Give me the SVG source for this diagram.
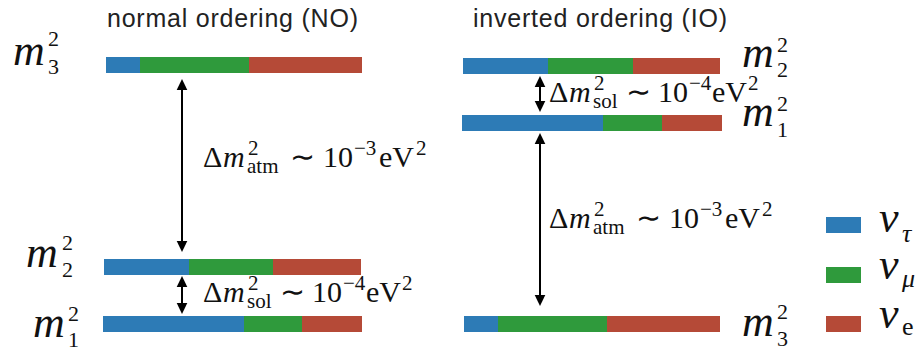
<svg xmlns="http://www.w3.org/2000/svg" width="923" height="354" viewBox="0 0 923 354">
<style>
.title{font-family:"Liberation Sans",Arial,sans-serif;font-size:25px;fill:#222}
.mt{font-family:"Liberation Serif","Times New Roman",serif;fill:#111}
.big{font-size:44px;font-style:italic}
.scr{font-size:22px;font-style:normal}
.lab{font-size:30px}
.s{font-size:21px;font-style:normal}
.ls{font-size:26px}
.it{font-style:italic}
.blue{fill:#2d7bb6}
.green{fill:#2f9a3c}
.red{fill:#b54a37}
.arr{stroke:#000;stroke-width:2;fill:none;marker-start:url(#ah);marker-end:url(#ah)}
</style>
<defs>
<marker id="ah" viewBox="0 -6 12 12" markerUnits="userSpaceOnUse" markerWidth="12" markerHeight="12" refX="0" refY="0" orient="auto-start-reverse" overflow="visible">
<path d="M0,-5.3 L11,0 L0,5.3 Z" fill="#000"/>
</marker>
</defs>
<rect width="923" height="354" fill="#fff"/>

<g id="titles">
<text class="title" x="107" y="27" textLength="251" lengthAdjust="spacing">normal ordering (NO)</text>
<text class="title" x="473" y="27" textLength="254" lengthAdjust="spacing">inverted ordering (IO)</text>
</g>

<g id="no-m3">
<rect class="blue" x="106" y="57" width="34" height="16"/>
<rect class="green" x="140" y="57" width="109" height="16"/>
<rect class="red" x="249" y="57" width="113" height="16"/>
<text class="mt big" x="13" y="65">m<tspan class="scr" x="48" y="46">2</tspan><tspan class="scr" x="48" y="74">3</tspan></text>
</g>

<g id="no-m2">
<rect class="blue" x="104" y="259" width="85" height="16"/>
<rect class="green" x="189" y="259" width="84" height="16"/>
<rect class="red" x="273" y="259" width="88" height="16"/>
<text class="mt big" x="26" y="267">m<tspan class="scr" x="62" y="250">2</tspan><tspan class="scr" x="62" y="277">2</tspan></text>
</g>

<g id="no-m1">
<rect class="blue" x="103" y="316" width="141" height="16"/>
<rect class="green" x="244" y="316" width="58" height="16"/>
<rect class="red" x="302" y="316" width="60" height="16"/>
<text class="mt big" x="33" y="337">m<tspan class="scr" x="68" y="321">2</tspan><tspan class="scr" x="68" y="347">1</tspan></text>
</g>

<g id="io-m2">
<rect class="blue" x="463" y="58" width="85" height="16"/>
<rect class="green" x="548" y="58" width="85" height="16"/>
<rect class="red" x="633" y="58" width="87" height="16"/>
<text class="mt big" x="742" y="67">m<tspan class="scr" x="777" y="52">2</tspan><tspan class="scr" x="777" y="77">2</tspan></text>
</g>

<g id="io-m1">
<rect class="blue" x="462" y="115" width="141" height="16"/>
<rect class="green" x="603" y="115" width="59" height="16"/>
<rect class="red" x="662" y="115" width="60" height="16"/>
<text class="mt big" x="742" y="126">m<tspan class="scr" x="777" y="111">2</tspan><tspan class="scr" x="777" y="137">1</tspan></text>
</g>

<g id="io-m3">
<rect class="blue" x="464" y="316" width="34" height="16"/>
<rect class="green" x="498" y="316" width="109" height="16"/>
<rect class="red" x="607" y="316" width="113" height="16"/>
<text class="mt big" x="742" y="336">m<tspan class="scr" x="777" y="319">2</tspan><tspan class="scr" x="777" y="346">3</tspan></text>
</g>

<g id="connectors">
<line class="arr" x1="182" y1="90" x2="182" y2="241"/>
<line class="arr" x1="182" y1="287" x2="182" y2="303"/>
<line class="arr" x1="540" y1="87" x2="540" y2="101"/>
<line class="arr" x1="540" y1="144" x2="540" y2="295"/>
</g>

<g id="label-no-atm">
<text class="mt lab" x="203" y="167">Δ<tspan class="it" x="223" y="167">m</tspan><tspan class="s" x="248" y="155">2</tspan><tspan class="s" x="247" y="173">atm</tspan><tspan x="290" y="167">∼</tspan><tspan x="323" y="167">10</tspan><tspan class="s" x="354" y="155">−3</tspan><tspan x="379" y="167">eV</tspan><tspan class="s" x="416" y="155">2</tspan></text>
</g>

<g id="label-no-sol">
<text class="mt lab" x="203" y="302">Δ<tspan class="it" x="223" y="302">m</tspan><tspan class="s" x="248" y="290">2</tspan><tspan class="s" x="247" y="308">sol</tspan><tspan x="280" y="302">∼</tspan><tspan x="312" y="302">10</tspan><tspan class="s" x="343" y="290">−4</tspan><tspan x="366" y="302">eV</tspan><tspan class="s" x="402" y="290">2</tspan></text>
</g>

<g id="label-io-sol">
<text class="mt lab" x="549" y="102">Δ<tspan class="it" x="569" y="102">m</tspan><tspan class="s" x="594" y="90">2</tspan><tspan class="s" x="593" y="108">sol</tspan><tspan x="626" y="102">∼</tspan><tspan x="658" y="102">10</tspan><tspan class="s" x="689" y="90">−4</tspan><tspan x="712" y="102">eV</tspan><tspan class="s" x="748" y="90">2</tspan></text>
</g>

<g id="label-io-atm">
<text class="mt lab" x="549" y="228">Δ<tspan class="it" x="569" y="228">m</tspan><tspan class="s" x="594" y="216">2</tspan><tspan class="s" x="593" y="234">atm</tspan><tspan x="636" y="228">∼</tspan><tspan x="669" y="228">10</tspan><tspan class="s" x="700" y="216">−3</tspan><tspan x="725" y="228">eV</tspan><tspan class="s" x="762" y="216">2</tspan></text>
</g>

<g id="legend">
<rect class="blue" x="826" y="217" width="35" height="16"/>
<rect class="green" x="826" y="267" width="35" height="16"/>
<rect class="red" x="826" y="316" width="35" height="16"/>
<text class="mt big" x="879" y="232">ν<tspan class="ls" x="902" y="242">τ</tspan></text>
<text class="mt big" x="879" y="279">ν<tspan class="ls" x="902" y="287">μ</tspan></text>
<text class="mt big" x="879" y="328">ν<tspan class="ls" style="font-style:normal" x="902" y="335">e</tspan></text>
</g>
</svg>
